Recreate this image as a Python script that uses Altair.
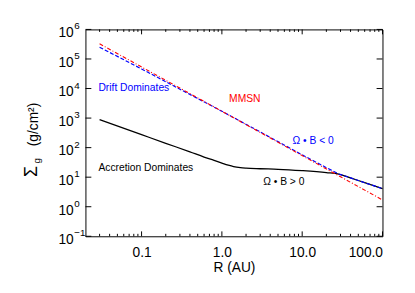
import altair as alt
import pandas as pd

# ---- data ----
R_acc = [0.03, 0.1, 0.2, 0.4, 0.6, 0.8, 1.0, 1.2, 1.4, 1.7, 2.0, 3.0, 5.0, 10.0, 20.0, 28.6, 40.0, 60.0, 100.0]
S_acc = [890, 275, 140, 72, 48, 37, 30, 25.5, 22.8, 21, 20.2, 19.3, 18.5, 16.6, 14.3, 12.8, 9.5, 6.5, 4.1]

R_drift = [0.03, 0.1, 0.3, 1.0, 3.0, 10.0, 20.0, 28.6, 40.0, 60.0, 100.0]
S_drift = [2.5e5, 4.6e4, 9.5e3, 1700, 340, 57, 21, 12.8, 9.5, 6.5, 4.1]

R_mmsn = [0.03, 100.0]
S_mmsn = [3.27e5, 1.7]

x_major = [0.1, 1.0, 10.0, 100.0]
x_minor = [0.03, 0.04, 0.05, 0.06, 0.07, 0.08, 0.09,
           0.2, 0.3, 0.4, 0.5, 0.6, 0.7, 0.8, 0.9,
           2, 3, 4, 5, 6, 7, 8, 9,
           20, 30, 40, 50, 60, 70, 80, 90]
y_major = [0.1, 1, 10, 100, 1e3, 1e4, 1e5, 1e6]
y_exp = ["\u22121", "0", "1", "2", "3", "4", "5", "6"]

ann_text = ["Drift Dominates", "Accretion Dominates", "MMSN", "\u03a9 \u2022 B < 0", "\u03a9 \u2022 B > 0"]
ann_R = [0.029, 0.029, 1.93, 13.7, 5.9]
ann_S = [1.0e4, 19.6, 4400, 170, 6.8]
ann_color = ["#0000ff", "#000000", "#ff0000", "#0000ff", "#000000"]
ann_align = ["left", "left", "center", "center", "center"]

W, H = 303, 211
FONT = "Liberation Sans"

xs = alt.Scale(type="log", domain=[0.02, 100], nice=False)
ys = alt.Scale(type="log", domain=[0.1, 1e6], nice=False)

df_acc = pd.DataFrame({"R": R_acc, "S": S_acc})
df_drift = pd.DataFrame({"R": R_drift, "S": S_drift})
df_mmsn = pd.DataFrame({"R": R_mmsn, "S": S_mmsn})

x_axis = alt.Axis(values=x_major, labelExpr="format(datum.value, '.1f')",
                  ticks=False, domain=False, grid=False,
                  labelFontSize=14, labelFont=FONT, labelPadding=10, labelColor="black",
                  title="R (AU)", titleFontSize=14, titleFont=FONT,
                  titleFontWeight="normal", titlePadding=1, titleColor="black")

acc = alt.Chart(df_acc).mark_line(color="black", strokeWidth=1.3, interpolate="monotone").encode(
    x=alt.X("R:Q", scale=xs, axis=x_axis),
    y=alt.Y("S:Q", scale=ys, axis=None),
)
drift = alt.Chart(df_drift).mark_line(color="#0000ff", strokeWidth=1.2, strokeDash=[4, 2]).encode(
    x=alt.X("R:Q", scale=xs), y=alt.Y("S:Q", scale=ys))
mmsn = alt.Chart(df_mmsn).mark_line(color="#ff0000", strokeWidth=1.1, strokeDash=[4, 2, 1, 2]).encode(
    x=alt.X("R:Q", scale=xs), y=alt.Y("S:Q", scale=ys))

layers = [acc, drift, mmsn]

# annotations
for t, r, s, c, a in zip(ann_text, ann_R, ann_S, ann_color, ann_align):
    layers.append(
        alt.Chart(pd.DataFrame({"R": [r], "S": [s], "t": [t]}))
        .mark_text(color=c, fontSize=10.5, font=FONT, align=a, baseline="middle")
        .encode(x=alt.X("R:Q", scale=xs), y=alt.Y("S:Q", scale=ys), text="t:N")
    )

# inward ticks
df_xmaj = pd.DataFrame({"R": x_major})
df_xmin = pd.DataFrame({"R": x_minor})
df_ymaj = pd.DataFrame({"S": y_major, "e": y_exp})
for df, ln in [(df_xmaj, 5), (df_xmin, 2.5)]:
    layers.append(alt.Chart(df).mark_rule(color="black", strokeWidth=1).encode(
        x=alt.X("R:Q", scale=xs), y=alt.value(H), y2=alt.value(H - ln)))
    layers.append(alt.Chart(df).mark_rule(color="black", strokeWidth=1).encode(
        x=alt.X("R:Q", scale=xs), y=alt.value(0), y2=alt.value(ln)))
layers.append(alt.Chart(df_ymaj).mark_rule(color="black", strokeWidth=1).encode(
    y=alt.Y("S:Q", scale=ys), x=alt.value(0), x2=alt.value(6)))
layers.append(alt.Chart(df_ymaj).mark_rule(color="black", strokeWidth=1).encode(
    y=alt.Y("S:Q", scale=ys), x=alt.value(W), x2=alt.value(W - 6)))

# y tick labels 10^k
layers.append(alt.Chart(df_ymaj).mark_text(fontSize=14, font=FONT, align="right", baseline="middle", dy=4, color="black").encode(
    y=alt.Y("S:Q", scale=ys), x=alt.value(-12), text=alt.value("10")))
layers.append(alt.Chart(df_ymaj).mark_text(fontSize=10, font=FONT, align="left", baseline="middle", dy=-3, color="black").encode(
    y=alt.Y("S:Q", scale=ys), x=alt.value(-11.5), text="e:N"))

# y title pieces (rotated)
layers.append(alt.Chart(pd.DataFrame({"t": ["\u03a3"]})).mark_text(fontSize=18, font=FONT, angle=270, align="center", baseline="middle", color="black").encode(
    x=alt.value(-54), y=alt.value(145), text="t:N"))
layers.append(alt.Chart(pd.DataFrame({"t": ["g"]})).mark_text(fontSize=10, font=FONT, angle=270, align="center", baseline="middle", color="black").encode(
    x=alt.value(-49), y=alt.value(134), text="t:N"))
layers.append(alt.Chart(pd.DataFrame({"t": ["(g/cm\u00b2)"]})).mark_text(fontSize=14, font=FONT, angle=270, align="center", baseline="middle", color="black").encode(
    x=alt.value(-52), y=alt.value(97), text="t:N"))

chart = alt.layer(*layers).properties(
    width=W, height=H,
    autosize=alt.AutoSizeParams(type="none"),
    padding={"left": 79, "top": 19, "right": 25, "bottom": 55},
).configure_view(stroke="black", strokeWidth=1)

chart.save("out.html", embed_options={"renderer": "svg", "actions": False})
